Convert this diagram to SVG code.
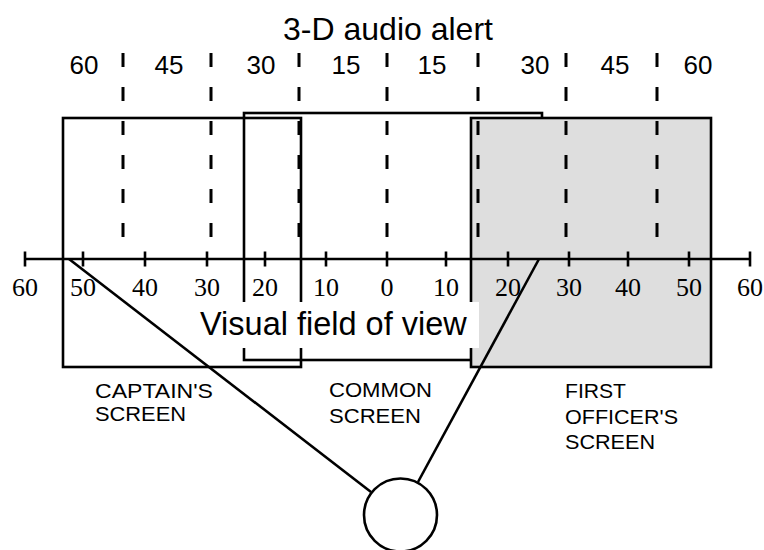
<svg xmlns="http://www.w3.org/2000/svg" width="764" height="550" viewBox="0 0 764 550">
<style>
.ln{stroke:#000;stroke-width:2.6;fill:none}
.dash{stroke:#000;stroke-width:3;stroke-dasharray:14 20;fill:none}
.sans{font-family:"Liberation Sans",Arial,sans-serif;fill:#000}
.serif{font-family:"Liberation Serif","Times New Roman",serif;font-size:26px;fill:#000;text-anchor:middle}
.top{font-size:26px;text-anchor:middle}
.lbl{font-size:21px}
</style>
<rect width="764" height="550" fill="#fff"/>
<g id="title"><text class="sans" x="388" y="39.5" font-size="32" text-anchor="middle">3-D audio alert</text></g>
<g id="captain-screen">
<rect class="ln" x="63" y="118" width="238" height="249"/>
</g>
<g id="common-screen">
<rect class="ln" x="244" y="113" width="298" height="247"/>
</g>
<g id="first-officer-screen">
<rect x="471" y="118" width="240" height="249" fill="#dedede" stroke="#000" stroke-width="2.6"/>
</g>
<g id="audio-alert-scale">
<text class="sans top" x="84" y="74">60</text>
<text class="sans top" x="169" y="74">45</text>
<text class="sans top" x="261" y="74">30</text>
<text class="sans top" x="346" y="74">15</text>
<text class="sans top" x="432" y="74">15</text>
<text class="sans top" x="535" y="74">30</text>
<text class="sans top" x="615" y="74">45</text>
<text class="sans top" x="698" y="74">60</text>
<line class="dash" x1="123" y1="53" x2="123" y2="237"/>
<line class="dash" x1="211" y1="53" x2="211" y2="237"/>
<line class="dash" x1="299" y1="53" x2="299" y2="237"/>
<line class="dash" x1="387" y1="53" x2="387" y2="237"/>
<line class="dash" x1="478" y1="53" x2="478" y2="237"/>
<line class="dash" x1="566" y1="53" x2="566" y2="237"/>
<line class="dash" x1="657" y1="53" x2="657" y2="237"/>
</g>
<g id="visual-axis">
<line class="ln" x1="25" y1="259" x2="750" y2="259"/>
<path class="ln" d="M25 251.5V266.5M83 251.5V266.5M145 251.5V266.5M207 251.5V266.5M265 251.5V266.5M326 251.5V266.5M387 251.5V266.5M446 251.5V266.5M508 251.5V266.5M569 251.5V266.5M628 251.5V266.5M689 251.5V266.5M750 251.5V266.5"/>
<text class="serif" x="25" y="295.5">60</text>
<text class="serif" x="83" y="295.5">50</text>
<text class="serif" x="145" y="295.5">40</text>
<text class="serif" x="207" y="295.5">30</text>
<text class="serif" x="265" y="295.5">20</text>
<text class="serif" x="326" y="295.5">10</text>
<text class="serif" x="387" y="295.5">0</text>
<text class="serif" x="446" y="295.5">10</text>
<text class="serif" x="508" y="295.5">20</text>
<text class="serif" x="569" y="295.5">30</text>
<text class="serif" x="628" y="295.5">40</text>
<text class="serif" x="689" y="295.5">50</text>
<text class="serif" x="750" y="295.5">60</text>
</g>
<g id="visual-field-label">
<rect x="188" y="302" width="291" height="46" fill="#fff"/>
<text class="sans" x="200" y="335" font-size="32.5">Visual field of view</text>
</g>
<g id="connectors">
<line class="ln" x1="69" y1="259" x2="371" y2="492"/>
<line class="ln" x1="539" y1="259" x2="418" y2="482"/>
</g>
<g id="eye">
<circle class="ln" cx="400.5" cy="515" r="36.5"/>
</g>
<g id="screen-labels">
<text class="sans lbl" x="95" y="398" textLength="118" lengthAdjust="spacingAndGlyphs">CAPTAIN'S</text>
<text class="sans lbl" x="95" y="420.5" textLength="91" lengthAdjust="spacingAndGlyphs">SCREEN</text>
<text class="sans lbl" x="329" y="397" textLength="103" lengthAdjust="spacingAndGlyphs">COMMON</text>
<text class="sans lbl" x="329" y="423" textLength="92" lengthAdjust="spacingAndGlyphs">SCREEN</text>
<text class="sans lbl" x="565" y="398" textLength="61" lengthAdjust="spacingAndGlyphs">FIRST</text>
<text class="sans lbl" x="565" y="423.5" textLength="113" lengthAdjust="spacingAndGlyphs">OFFICER'S</text>
<text class="sans lbl" x="565" y="449" textLength="90" lengthAdjust="spacingAndGlyphs">SCREEN</text>
</g>
</svg>
